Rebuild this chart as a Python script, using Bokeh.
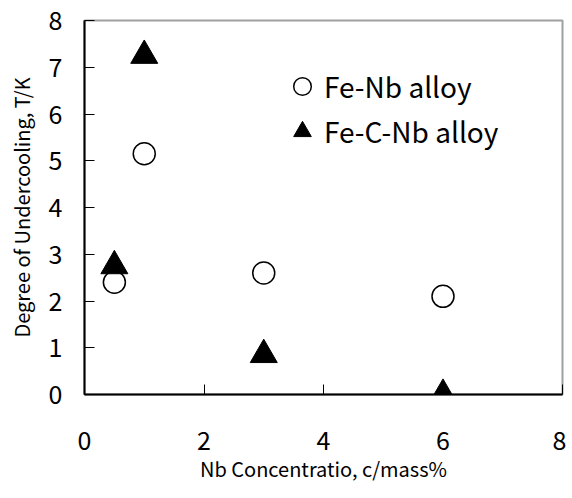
from bokeh.plotting import figure
from bokeh.models import Range1d, FixedTicker, Legend, LegendItem
from bokeh.embed import file_html
from bokeh.resources import INLINE

# Data
fe_nb_x = [0.5, 1, 3, 6]
fe_nb_y = [2.4, 5.15, 2.6, 2.1]
fe_c_nb_x = [0.5, 1, 3, 6]
fe_c_nb_y = [2.75, 7.25, 0.85, 0.0]
x_ticks = [0, 2, 4, 6, 8]
y_ticks = [0, 1, 2, 3, 4, 5, 6, 7, 8]

FONT = "Noto Sans CJK JP"

p = figure(width=566, height=490, output_backend="svg", toolbar_location=None,
           x_range=Range1d(0, 8), y_range=Range1d(0, 8),
           min_border_left=84, min_border_right=4, min_border_top=20, min_border_bottom=96)
p.grid.visible = False
p.background_fill_color = "white"
p.border_fill_color = "white"
p.outline_line_color = "#a0a0a0"
p.outline_line_width = 2

for ax in (p.xaxis[0], p.yaxis[0]):
    ax.axis_line_color = "black"
    ax.axis_line_width = 2
    ax.major_tick_in = 10
    ax.major_tick_out = 0
    ax.major_tick_line_color = "black"
    ax.major_tick_line_width = 1
    ax.minor_tick_line_color = None
    ax.major_label_text_font = FONT
    ax.major_label_text_font_size = "25px"
    ax.major_label_text_color = "black"
    ax.axis_label_text_font = FONT
    ax.axis_label_text_font_size = "20px"
    ax.axis_label_text_font_style = "normal"
    ax.axis_label_text_color = "black"

p.xaxis.ticker = FixedTicker(ticks=x_ticks)
p.yaxis.ticker = FixedTicker(ticks=y_ticks)
p.xaxis.major_label_standoff = 36
p.yaxis.major_label_standoff = 22
p.xaxis.axis_label = "Nb Concentratio, c/mass%"
p.yaxis.axis_label = "Degree of Undercooling, T/K"
p.xaxis.axis_label_standoff = 1
p.yaxis.axis_label_standoff = 10

r1 = p.scatter(fe_nb_x, fe_nb_y, marker="circle", size=22, fill_color="white",
               line_color="black", line_width=1.5)
r2 = p.scatter(fe_c_nb_x, fe_c_nb_y, marker="triangle", size=27, fill_color="black",
               line_color="black", line_width=1)

legend = Legend(items=[LegendItem(label="Fe-Nb alloy", renderers=[r1]),
                       LegendItem(label="Fe-C-Nb alloy", renderers=[r2])],
                location=(196, 241), glyph_width=44, glyph_height=44,
                label_standoff=-2, spacing=1, padding=0, margin=0,
                label_text_font=FONT, label_text_font_size="28px",
                label_text_color="black",
                border_line_color=None, background_fill_alpha=0)
p.add_layout(legend, "center")

open("out.html", "w").write(file_html(p, INLINE))
